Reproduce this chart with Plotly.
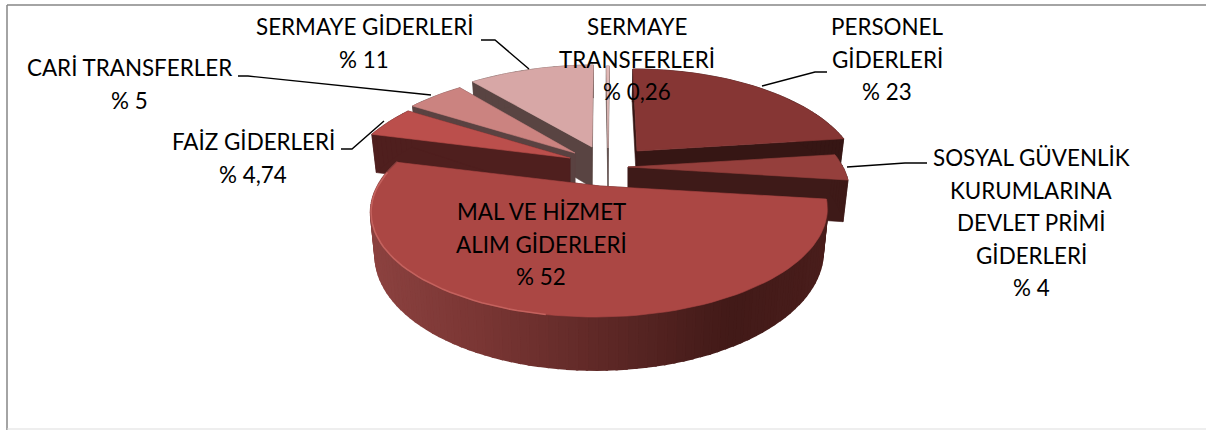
import math
import plotly.graph_objects as go

# ---- data ----
NAMES = ["PERSONEL GİDERLERİ", "SOSYAL GÜVENLİK KURUMLARINA DEVLET PRİMİ GİDERLERİ",
         "MAL VE HİZMET ALIM GİDERLERİ", "FAİZ GİDERLERİ", "CARİ TRANSFERLER",
         "SERMAYE GİDERLERİ", "SERMAYE TRANSFERLERİ"]
VALUES = [23, 4, 52, 4.74, 5, 11, 0.26]
LABEL_LINES = [
    ["PERSONEL", "GİDERLERİ", "% 23"],
    ["SOSYAL GÜVENLİK", "KURUMLARINA", "DEVLET PRİMİ", "GİDERLERİ", "% 4"],
    ["MAL VE HİZMET", "ALIM GİDERLERİ", "% 52"],
    ["FAİZ GİDERLERİ", "% 4,74"],
    ["CARİ TRANSFERLER", "% 5"],
    ["SERMAYE GİDERLERİ", "% 11"],
    ["SERMAYE", "TRANSFERLERİ", "% 0,26"],
]

# ---- style / layout ----
TOP_COLORS = ["#863634", "#953f3c", "#ab4744", "#bb4f4c", "#cb8380", "#d7a7a6", "#e0b8b6"]
SIDE_COLORS = ["#361614", "#3e1a18", "#421a18", "#4f1f1e", "#5a4241", "#594442", "#5c4a48"]
EXPLODED_APEX = [(637, 151), (628, 167), (600, 186), (570, 158), (575, 153), (592, 147), (608, 148)]
RADIUS = [215, 215, 222, 219, 219, 222, 222]
LABEL_POS = [(887, 26.5), (1031, 157.5), (541, 211.5), (253, 141.5), (129, 67.5), (364, 26.5), (637, 26.5)]
LINE_STEP = 32.5
LEADERS = [
    [(827, 72), (815, 72), (762, 86)],
    [(927, 163), (905, 163), (847, 167)],
    [(341, 149), (352, 149), (384, 121)],
    [(238, 76), (248, 76), (431, 95)],
    [(481, 40), (495, 40), (529, 69)],
]
DRAW_ORDER = [6, 5, 4, 3, 0, 1, 2]
B, K, DEPTH, VX = 100.9, 0.23, 40.5, 615.0
FONT = "Lato"
FONT_SIZE = 22.4


def top_point(i, deg):
    ax, ay = EXPLODED_APEX[i]
    u, v = math.sin(math.radians(deg)), math.cos(math.radians(deg))
    w = 1 + K * v
    return VX + (ax - VX + RADIUS[i] * u) / w, ay - B * v / w, w


def bottom_point(i, deg):
    x, y, w = top_point(i, deg)
    return 598 + (x - 598) * 0.98, y + DEPTH / w


def apex_bottom(i):
    ax, ay = EXPLODED_APEX[i]
    return ax, ay + DEPTH


def lerp_color(stops, t):
    for (t0, c0), (t1, c1) in zip(stops, stops[1:]):
        if t <= t1:
            f = max(0, (t - t0) / (t1 - t0))
            rgb = [int(c0[j:j + 2], 16) * (1 - f) + int(c1[j:j + 2], 16) * f for j in (1, 3, 5)]
            return "rgb(%d,%d,%d)" % tuple(rgb)
    return stops[-1][1]


def poly(fig, xs, ys, color, lw=0.6):
    fig.add_trace(go.Scatter(x=xs + xs[:1], y=ys + ys[:1], mode="lines", fill="toself",
                             fillcolor=color, line=dict(color=color, width=lw),
                             hoverinfo="skip", showlegend=False))


fig = go.Figure()

# slice angles from the values, clockwise from the top
total = sum(VALUES)
starts, acc = [], 0.0
for val in VALUES:
    starts.append(acc)
    acc += val / total * 360

WALL_STOPS = [(370, "#8c4240"), (480, "#7a3634"), (600, "#5f2927"), (730, "#421a18"), (830, "#4a1e1c")]

for i in DRAW_ORDER:
    a0 = starts[i]
    a1 = a0 + VALUES[i] / total * 360
    n = max(3, int((a1 - a0) / 2))
    degs = [a0 + (a1 - a0) * k / n for k in range(n + 1)]
    ax, ay = EXPLODED_APEX[i]
    bx, by = apex_bottom(i)
    side = SIDE_COLORS[i]
    # cut faces
    for d in (a0, a1):
        tx, ty, _ = top_point(i, d)
        qx, qy = bottom_point(i, d)
        poly(fig, [ax, tx, qx, bx], [ay, ty, qy, by], side)
    # outer wall
    for d0, d1 in zip(degs, degs[1:]):
        x0, y0, _ = top_point(i, d0)
        x1, y1, _ = top_point(i, d1)
        x2, y2 = bottom_point(i, d1)
        x3, y3 = bottom_point(i, d0)
        color = lerp_color(WALL_STOPS, (x0 + x1) / 2) if i == 2 else side
        poly(fig, [x0, x1, x2, x3], [y0, y1, y2, y3], color, lw=2.5 if i == 2 else 0.6)
    # top face
    pts = [top_point(i, d) for d in degs]
    poly(fig, [ax] + [p[0] for p in pts], [ay] + [p[1] for p in pts], TOP_COLORS[i])

# rim highlight of the largest slice
rim_degs = [190 + k * 2 for k in range(45)]
rim = [top_point(2, d) for d in rim_degs]
fig.add_trace(go.Scatter(x=[p[0] for p in rim], y=[p[1] for p in rim], mode="lines",
                         line=dict(color="#c4625e", width=1.6), hoverinfo="skip", showlegend=False))

# leader lines
for pts in LEADERS:
    fig.add_trace(go.Scatter(x=[p[0] for p in pts], y=[p[1] for p in pts], mode="lines",
                             line=dict(color="#000000", width=1.4), hoverinfo="skip", showlegend=False))

# labels
for lines, (lx, ly) in zip(LABEL_LINES, LABEL_POS):
    for k, text in enumerate(lines):
        fig.add_annotation(x=lx, y=ly + k * LINE_STEP, text=text, showarrow=False,
                           xanchor="center", yanchor="middle",
                           font=dict(family=FONT, size=FONT_SIZE, color="#000000"))

fig.update_layout(
    width=1206, height=430, margin=dict(l=0, r=0, t=0, b=0),
    paper_bgcolor="#ffffff", plot_bgcolor="#ffffff", showlegend=False,
    xaxis=dict(range=[0, 1206], visible=False, fixedrange=True),
    yaxis=dict(range=[430, 0], visible=False, fixedrange=True),
    shapes=[
        dict(type="line", x0=7, x1=7, y0=5, y1=430, line=dict(color="#868686", width=1.5)),
        dict(type="line", x0=7, x1=1206, y0=5, y1=5, line=dict(color="#868686", width=1.5)),
        dict(type="line", x0=7, x1=1206, y0=429, y1=429, line=dict(color="#dddddd", width=1)),
    ],
)

fig.write_html("out.html", config={"displayModeBar": False},
               post_script="document.body.style.margin='0';")
